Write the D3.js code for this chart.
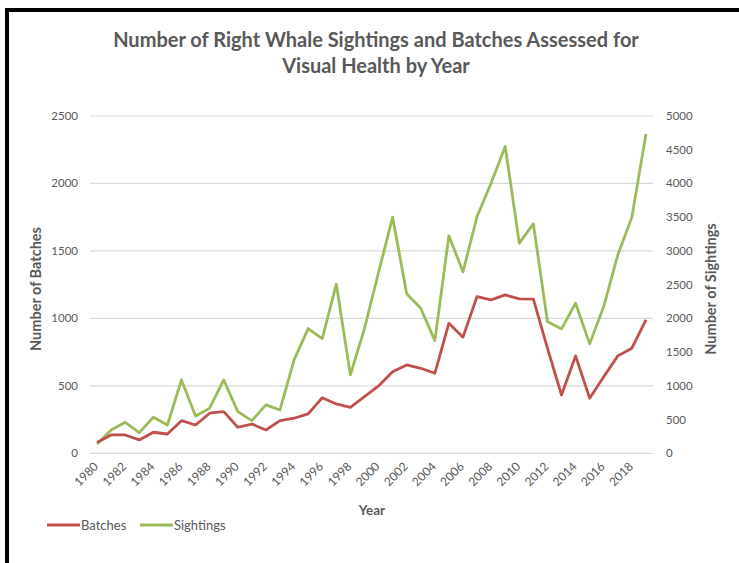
<!DOCTYPE html>
<html>
<head>
<meta charset="utf-8">
<script src="https://cdn.jsdelivr.net/npm/d3@7.9.0/dist/d3.min.js"></script>
<style>
  body { margin: 0; background: #fff; }
  svg text { font-family: Lato, "Open Sans", sans-serif; }
</style>
</head>
<body>
<svg id="chart" width="739" height="563"></svg>
<script>
// data
const years = d3.range(1980, 2020);
const batches = [80, 136, 136, 99, 156, 143, 242, 210, 297, 309,
  193, 217, 173, 242, 260, 292, 412, 366, 341, 420,
  499, 605, 655, 630, 593, 964, 861, 1162, 1137, 1174,
  1145, 1142, 779, 432, 722, 408, 568, 722, 779, 989];
const sightings = [138, 346, 460, 306, 534, 420, 1088, 553, 668, 1088,
  617, 484, 717, 642, 1384, 1849, 1700, 2507, 1162, 1850,
  2680, 3500, 2364, 2151, 1671, 3224, 2690, 3510, 4006, 4549,
  3116, 3402, 1953, 1844, 2225, 1622, 2175, 2942, 3501, 4733];
const leftTicks = [0, 500, 1000, 1500, 2000, 2500];
const rightTicks = [0, 500, 1000, 1500, 2000, 2500, 3000, 3500, 4000, 4500, 5000];

const svg = d3.select('#chart');
const grey = '#595959';

// outer frame (left and top edges only visible)
svg.append('path')
  .attr('d', 'M7,563 V10 H739')
  .attr('fill', 'none')
  .attr('stroke', '#000')
  .attr('stroke-width', 4);

const plotL = 90, plotR = 653, plotT = 116, plotB = 453.3;

const x = d3.scaleBand().domain(years).range([plotL, plotR]);
const yL = d3.scaleLinear().domain([0, 2500]).range([plotB, plotT]);
const yR = d3.scaleLinear().domain([0, 5000]).range([plotB, plotT]);
const cx = d => x(d) + x.bandwidth() / 2;

// gridlines
svg.append('g')
  .selectAll('line')
  .data(leftTicks)
  .join('line')
  .attr('x1', plotL).attr('x2', plotR)
  .attr('y1', d => yL(d)).attr('y2', d => yL(d))
  .attr('stroke', '#d9d9d9')
  .attr('stroke-width', 1.2);

// left axis labels
svg.append('g')
  .selectAll('text')
  .data(leftTicks)
  .join('text')
  .attr('x', 78).attr('y', d => yL(d) + 4)
  .attr('text-anchor', 'end')
  .attr('font-size', 11.5)
  .attr('fill', grey)
  .text(d => d);

// right axis labels
svg.append('g')
  .selectAll('text')
  .data(rightTicks)
  .join('text')
  .attr('x', 666).attr('y', d => yR(d) + 4)
  .attr('text-anchor', 'start')
  .attr('font-size', 11.5)
  .attr('fill', grey)
  .text(d => d);

// x labels, every other year, rotated
svg.append('g')
  .selectAll('text')
  .data(years.filter(y => y % 2 === 0))
  .join('text')
  .attr('transform', d => `translate(${cx(d) - 1},${plotB + 11}) rotate(-45)`)
  .attr('text-anchor', 'end')
  .attr('dy', '0.35em')
  .attr('font-size', 12)
  .attr('fill', grey)
  .text(d => d);

// lines
const lineL = d3.line().x((d, i) => cx(years[i])).y(d => yL(d));
const lineR = d3.line().x((d, i) => cx(years[i])).y(d => yR(d));

svg.append('path')
  .datum(sightings)
  .attr('d', lineR)
  .attr('fill', 'none')
  .attr('stroke', '#9BBB59')
  .attr('stroke-width', 2.8)
  .attr('stroke-linejoin', 'round');

svg.append('path')
  .datum(batches)
  .attr('d', lineL)
  .attr('fill', 'none')
  .attr('stroke', '#C0504D')
  .attr('stroke-width', 2.8)
  .attr('stroke-linejoin', 'round');

// titles
const title = svg.append('text')
  .attr('text-anchor', 'middle')
  .attr('font-size', 20)
  .attr('font-weight', 'bold')
  .attr('fill', grey);
title.append('tspan').attr('x', 376).attr('y', 47)
  .text('Number of Right Whale Sightings and Batches Assessed for');
title.append('tspan').attr('x', 376).attr('y', 73)
  .text('Visual Health by Year');

svg.append('text')
  .attr('transform', 'translate(41,289) rotate(-90)')
  .attr('text-anchor', 'middle')
  .attr('font-size', 14.5)
  .attr('font-weight', 'bold')
  .attr('fill', grey)
  .text('Number of Batches');

svg.append('text')
  .attr('transform', 'translate(716,289) rotate(-90)')
  .attr('text-anchor', 'middle')
  .attr('font-size', 14.5)
  .attr('font-weight', 'bold')
  .attr('fill', grey)
  .text('Number of Sightings');

svg.append('text')
  .attr('x', 372).attr('y', 515)
  .attr('text-anchor', 'middle')
  .attr('font-size', 13.5)
  .attr('font-weight', 'bold')
  .attr('fill', grey)
  .text('Year');

// legend
const legend = [
  { label: 'Batches', color: '#C0504D', x: 47 },
  { label: 'Sightings', color: '#9BBB59', x: 140 }
];
const lg = svg.append('g').selectAll('g').data(legend).join('g')
  .attr('transform', d => `translate(${d.x},525)`);
lg.append('line')
  .attr('x1', 0).attr('x2', 33)
  .attr('stroke', d => d.color)
  .attr('stroke-width', 2.8);
lg.append('text')
  .attr('x', 34).attr('y', 4.5)
  .attr('font-size', 13)
  .attr('fill', grey)
  .text(d => d.label);
</script>
</body>
</html>
